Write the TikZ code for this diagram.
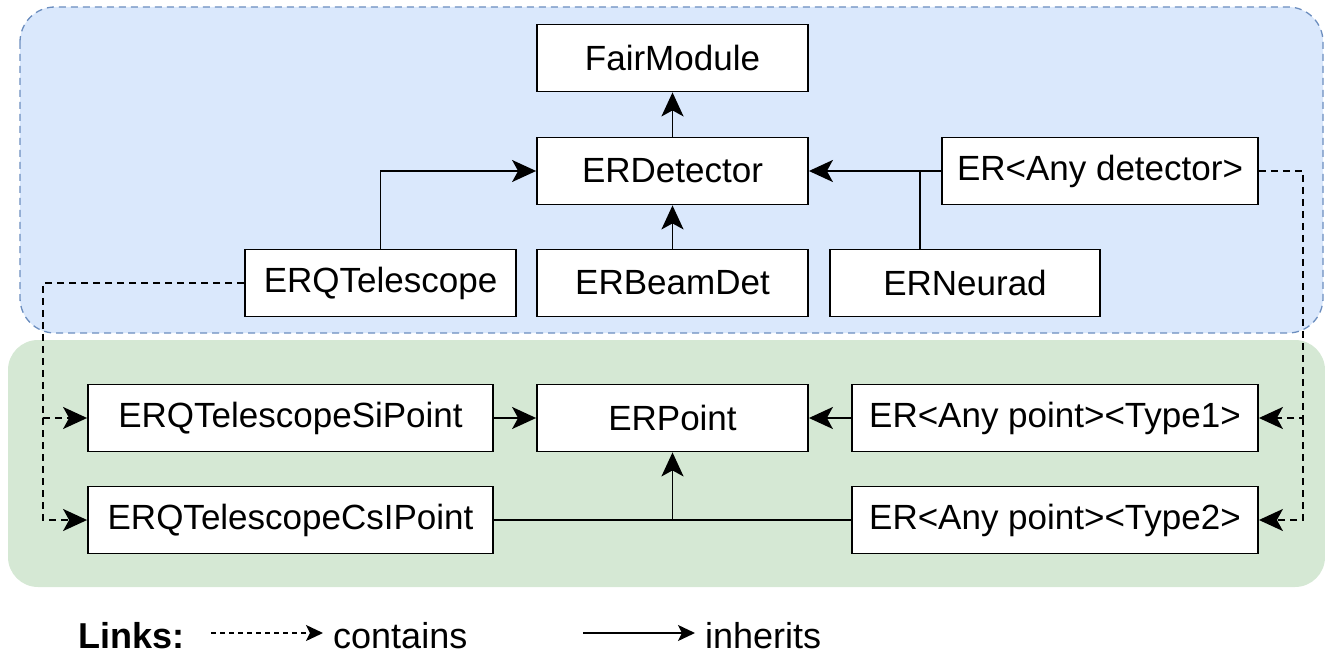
\documentclass[tikz,border=0pt]{standalone}
\usepackage{fontspec}
\setmainfont{Liberation Sans}
\usetikzlibrary{arrows.meta}
\definecolor{bluefill}{HTML}{DAE8FC}
\definecolor{bluedraw}{HTML}{6C8EBF}
\definecolor{greenfill}{HTML}{D5E8D4}
\begin{document}
\begin{tikzpicture}[x=1pt,y=-1pt,
  cls/.style={draw=black, line width=1.8pt, fill=white, minimum height=67pt,
    inner sep=0pt, font=\fontsize{35}{40}\selectfont},
  link/.style={line width=1.9pt},
  inh/.style={link, -{Stealth[length=24pt,width=22pt,inset=6pt]}},
  cont/.style={inh, dash pattern=on 7pt off 5pt},
  legtxt/.style={inner sep=0pt, inner xsep=10pt, anchor=base west, font=\fontsize{36}{40}\selectfont},
  legarrow/.style={line width=1.4pt, -{Stealth[length=17pt,width=16pt,inset=4pt]}},
]
\useasboundingbox (0,0) rectangle (1325,655);
% regions
\filldraw[fill=bluefill, draw=bluedraw, line width=1.3pt, dash pattern=on 7pt off 5pt,
  rounded corners=35pt] (20,7) rectangle (1323,333);
\fill[greenfill, rounded corners=30pt] (8,340) rectangle (1325,587);

% classes
\node[cls, minimum width=271pt] (fm)    at (672.5,58)  {FairModule};
\node[cls, minimum width=271pt] (det)   at (672.5,171) {ERDetector};
\node[cls, minimum width=316pt] (anydet) at (1100,171) {ER<Any detector>};
\node[cls, minimum width=271pt] (tel)   at (380.5,283) {ERQTelescope};
\node[cls, minimum width=271pt] (beam)  at (672.5,283) {ERBeamDet};
\node[cls, minimum width=270pt] (neur)  at (965,283)   {ERNeurad};
\node[cls, minimum width=405pt] (si)    at (290.5,418) {ERQTelescopeSiPoint};
\node[cls, minimum width=271pt] (pt)    at (672.5,418) {ERPoint};
\node[cls, minimum width=406pt] (t1)    at (1055,418)  {ER<Any point><Type1>};
\node[cls, minimum width=405pt] (csi)   at (290.5,520) {ERQTelescopeCsIPoint};
\node[cls, minimum width=406pt] (t2)    at (1055,520)  {ER<Any point><Type2>};

% junction coordinates
\coordinate (nj) at (920,171);
\coordinate (pj) at (672.5,520);
\coordinate (lx) at (43,0);
\coordinate (rx) at (1303,0);

% inheritance
\draw[inh] (det) -- (fm);
\draw[inh] (beam) -- (det);
\draw[inh] (tel.north) |- (det.west);
\draw[inh] (anydet.west) -- (det.east);
\draw[link] (neur.north -| nj) -- (nj);
\draw[inh] (si) -- (pt);
\draw[inh] (t1) -- (pt);
\draw[link] (csi.east) -- (t2.west);
\draw[inh] (pj) -- (pt.south);

% containment
\draw[cont] (tel.west) -- (tel.west -| lx) |- (si.west);
\draw[cont] (si.west -| lx) |- (csi.west);
\draw[cont] (anydet.east) -- (anydet.east -| rx) |- (t1.east);
\draw[cont] (t1.east -| rx) |- (t2.east);

% legend
\node[anchor=base west, inner sep=0pt, font=\bfseries\fontsize{36}{40}\selectfont] (lk) at (78,648) {Links:};
\node[legtxt] (ct) at (323,648) {contains};
\node[legtxt] (ih) at (695,648) {inherits};
\coordinate (d1) at (211,633);
\coordinate (s1) at (583,633);
\draw[legarrow, dash pattern=on 5pt off 4pt] (d1) -- (d1 -| ct.west);
\draw[legarrow] (s1) -- (s1 -| ih.west);
\end{tikzpicture}
\end{document}
